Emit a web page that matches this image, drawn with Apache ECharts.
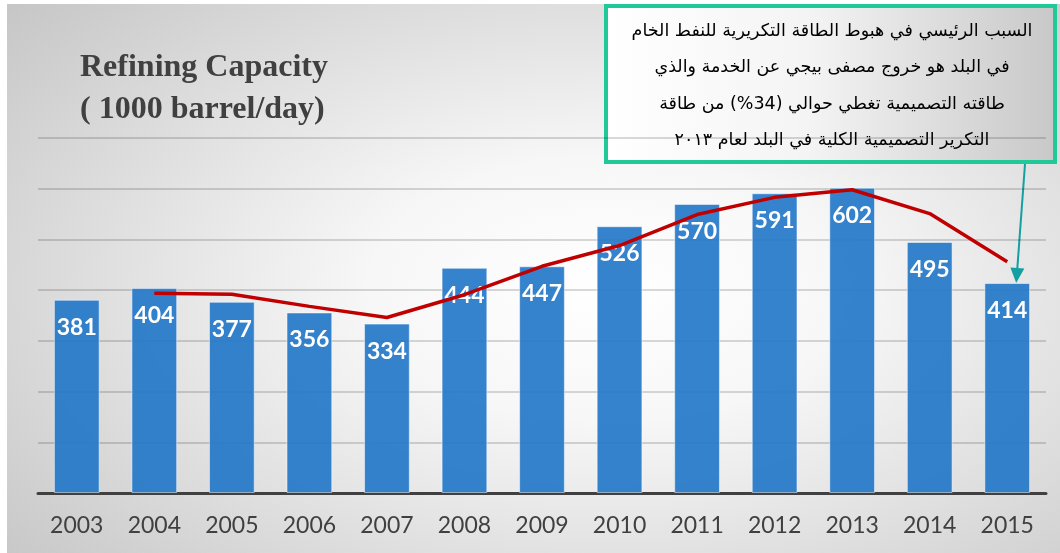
<!DOCTYPE html>
<html>
<head>
    <meta charset="utf-8" />
    <title>Refining Capacity</title>
    <script src="https://cdn.jsdelivr.net/npm/echarts@6/dist/echarts.min.js"></script>
    <style>
        body { margin: 0; background: #fff; }
        #chart {
            position: absolute; left: 7px; top: 4px; width: 1053px; height: 549px;
            background: radial-gradient(ellipse 75% 80% at 57% 52%, #ffffff 0%, #f7f7f7 30%, #c6c6c6 100%);
        }
    </style>
</head>
<body>
    <div id="chart"></div>

    <script>
        // 数据
        var years = ['2003', '2004', '2005', '2006', '2007', '2008', '2009', '2010', '2011', '2012', '2013', '2014', '2015'];
        var capacity = [381, 404, 377, 356, 334, 444, 447, 526, 570, 591, 602, 495, 414];
        var trend = [null, 394, 392, 368, 346, 391, 447, 488, 549, 583, 598, 551, 456];
        var yTicks = [0, 100, 200, 300, 400, 500, 600, 700];
        var noteLines = [
            'السبب الرئيسي في هبوط الطاقة التكريرية للنفط الخام',
            'في البلد هو خروج مصفى بيجي عن الخدمة والذي',
            'طاقته التصميمية تغطي حوالي (34%) من طاقة',
            'التكرير التصميمية الكلية في البلد لعام ٢٠١٣'
        ];

        var chart = echarts.init(document.getElementById('chart'));
        chart.setOption({
            animation: false,
            backgroundColor: 'transparent',
            title: {
                text: 'Refining Capacity\n( 1000 barrel/day)',
                left: 73,
                top: 43,
                padding: 0,
                textStyle: {
                    fontFamily: 'Liberation Serif',
                    fontWeight: 'bold',
                    fontSize: 32,
                    lineHeight: 42,
                    color: '#404040'
                }
            },
            grid: { left: 31, right: 14, top: 134, bottom: 60 },
            xAxis: {
                type: 'category',
                data: years,
                axisTick: { show: false },
                axisLine: { lineStyle: { color: '#404040', width: 3 } },
                axisLabel: { color: '#404040', fontFamily: 'Lato', fontSize: 23, margin: 21 }
            },
            yAxis: {
                type: 'value',
                min: yTicks[0],
                max: yTicks[yTicks.length - 1],
                interval: 100,
                axisLabel: { show: false },
                axisLine: { show: false },
                axisTick: { show: false },
                splitLine: { lineStyle: { color: 'rgba(0,0,0,0.2)', width: 1.5 } }
            },
            series: [
                {
                    type: 'bar',
                    data: capacity,
                    barCategoryGap: '41%',
                    itemStyle: {
                        color: 'rgba(31,116,200,0.9)',
                        borderColor: 'rgba(255,255,255,0.5)',
                        borderWidth: 1
                    },
                    label: {
                        show: true,
                        position: 'insideTop',
                        distance: 16,
                        color: '#fff',
                        fontFamily: 'Lato',
                        fontWeight: 'bold',
                        fontSize: 23
                    }
                },
                {
                    type: 'line',
                    data: trend,
                    z: 3,
                    symbol: 'none',
                    lineStyle: { color: '#c00000', width: 3.5 }
                }
            ],
            graphic: [
                {
                    type: 'rect',
                    shape: { x: 599, y: 2, width: 449, height: 156 },
                    style: {
                        fill: new echarts.graphic.LinearGradient(0, 0, 1, 0, [
                            { offset: 0, color: '#ffffff' },
                            { offset: 0.45, color: '#f4f4f4' },
                            { offset: 1, color: '#c8c8c8' }
                        ]),
                        stroke: '#20c997',
                        lineWidth: 4
                    }
                },
                {
                    type: 'text',
                    style: {
                        text: noteLines.join('\n'),
                        x: 825,
                        y: 82,
                        align: 'center',
                        verticalAlign: 'middle',
                        fontFamily: 'DejaVu Sans',
                        fontSize: 17.5,
                        lineHeight: 36.5,
                        fill: '#000'
                    }
                }
            ]
        });

        // 箭头：从说明框指向2015年柱顶
        var tip = chart.convertToPixel({ seriesIndex: 0 }, ['2015', capacity[12]]);
        var sx = 1018, sy = 160;
        var ex = tip[0] + 9, ey = tip[1];
        var ang = Math.atan2(ey - sy, ex - sx);
        var hl = 15, hw = 7;
        var bx = ex - hl * Math.cos(ang), by = ey - hl * Math.sin(ang);
        chart.setOption({
            graphic: [
                {},
                {},
                {
                    type: 'line',
                    shape: { x1: sx, y1: sy, x2: bx, y2: by },
                    style: { stroke: '#14a0a0', lineWidth: 2 }
                },
                {
                    type: 'polygon',
                    shape: {
                        points: [
                            [ex, ey],
                            [bx + hw * Math.sin(ang), by - hw * Math.cos(ang)],
                            [bx - hw * Math.sin(ang), by + hw * Math.cos(ang)]
                        ]
                    },
                    style: { fill: '#14a0a0' }
                }
            ]
        });

        window.onresize = function () {
            chart.resize();
        };
    </script>
</body>
</html>
